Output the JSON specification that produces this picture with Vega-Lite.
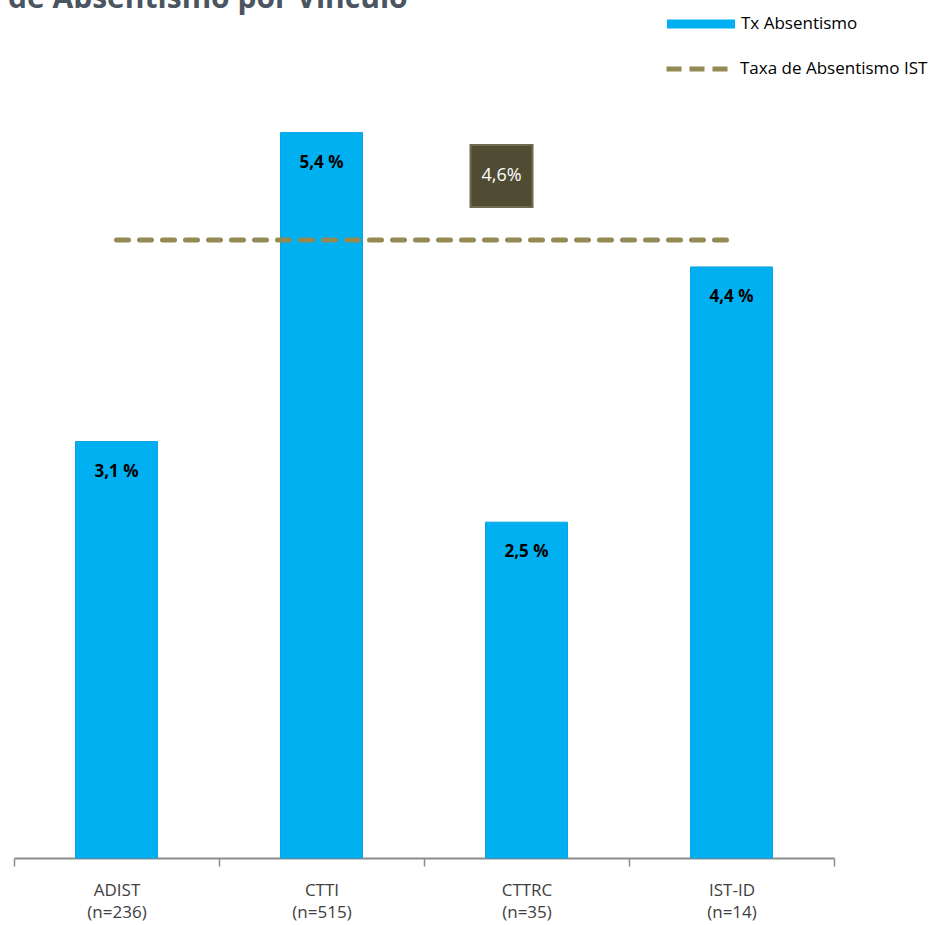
{
  "$schema": "https://vega.github.io/schema/vega-lite/v6.json",
  "width": 820,
  "height": 806,
  "autosize": {"type": "none"},
  "padding": {"left": 14, "top": 52, "right": 117, "bottom": 67},
  "background": "white",
  "title": {
    "text": "de Absentismo por Vínculo",
    "anchor": "start",
    "frame": "group",
    "orient": "top",
    "font": "Open Sans",
    "fontSize": 30,
    "fontWeight": "bold",
    "color": "#4A5561",
    "baseline": "alphabetic",
    "offset": -48,
    "dx": -6
  },
  "data": {
    "values": [
      {"cat": "ADIST (n=236)", "tx": 3.1, "ist": 4.6},
      {"cat": "CTTI (n=515)", "tx": 5.4, "ist": 4.6},
      {"cat": "CTTRC (n=35)", "tx": 2.5, "ist": 4.6},
      {"cat": "IST-ID (n=14)", "tx": 4.4, "ist": 4.6}
    ]
  },
  "encoding": {
    "x": {
      "field": "cat",
      "type": "nominal",
      "sort": null,
      "title": null,
      "scale": {"paddingInner": 0, "paddingOuter": 0},
      "axis": {
        "labelExpr": "split(datum.label, ' ')",
        "labelAngle": 0,
        "labelFont": "Open Sans",
        "labelFontSize": 17,
        "labelColor": "#404040",
        "labelLineHeight": 22,
        "labelBaseline": "top",
        "labelPadding": 16,
        "tickBand": "extent",
        "tickSize": 8,
        "tickColor": "#8C8C8C",
        "tickWidth": 1.5,
        "domainColor": "#8C8C8C",
        "domainWidth": 2,
        "grid": false
      }
    }
  },
  "layer": [
    {
      "mark": {"type": "bar", "width": {"band": 0.4}, "stroke": "#0AA3E0", "strokeWidth": 1},
      "encoding": {
        "y": {"field": "tx", "type": "quantitative", "scale": {"domain": [0, 6]}, "axis": null},
        "color": {
          "datum": "Tx Absentismo",
          "scale": {"range": ["#00B0F0"]},
          "legend": {
            "title": null,
            "orient": "none",
            "legendX": 653,
            "legendY": -62,
            "padding": 0,
            "symbolType": "M-1,-0.13L1,-0.13L1,0.13L-1,0.13Z",
            "symbolSize": 4624,
            "symbolStrokeWidth": 0,
            "labelOffset": 6,
            "labelLimit": 0,
            "labelFont": "Open Sans",
            "labelFontSize": 17,
            "labelColor": "#000000"
          }
        }
      }
    },
    {
      "transform": [{"calculate": "replace(format(datum.tx, '.1f'), '.', ',') + ' %'", "as": "lbl"}],
      "mark": {"type": "text", "dy": 30, "font": "Open Sans", "fontSize": 17, "fontWeight": "bold", "color": "#000000", "baseline": "middle"},
      "encoding": {
        "y": {"field": "tx", "type": "quantitative"},
        "text": {"field": "lbl"}
      }
    },
    {
      "mark": {"type": "line", "strokeWidth": 5, "strokeDash": [12, 11], "strokeCap": "round"},
      "encoding": {
        "y": {"field": "ist", "type": "quantitative"},
        "stroke": {
          "datum": "Taxa de Absentismo IST",
          "scale": {"range": ["#948A54"]},
          "legend": {
            "title": null,
            "orient": "none",
            "legendX": 650,
            "legendY": -16,
            "padding": 0,
            "symbolType": "stroke",
            "symbolSize": 3721,
            "symbolStrokeWidth": 5,
            "symbolDash": [15, 8],
            "labelOffset": 10,
            "labelLimit": 0,
            "labelFont": "Open Sans",
            "labelFontSize": 17,
            "labelColor": "#000000"
          }
        }
      }
    },
    {
      "data": {"values": [{"taxa": 4.6}]},
      "mark": {"type": "square", "size": 3844, "xOffset": -25, "yOffset": -64, "filled": true, "color": "#4F4C33", "stroke": "#6E6B50", "strokeWidth": 2, "opacity": 1},
      "encoding": {
        "x": {"datum": "CTTRC (n=35)"},
        "y": {"field": "taxa", "type": "quantitative"}
      }
    },
    {
      "data": {"values": [{"taxa": 4.6}]},
      "transform": [{"calculate": "replace(format(datum.taxa, '.1f'), '.', ',') + '%'", "as": "lbl"}],
      "mark": {"type": "text", "xOffset": -25, "yOffset": -64, "font": "Open Sans", "fontSize": 18, "color": "#FFFFFF", "baseline": "middle"},
      "encoding": {
        "x": {"datum": "CTTRC (n=35)"},
        "y": {"field": "taxa", "type": "quantitative"},
        "text": {"field": "lbl"}
      }
    }
  ],
  "config": {
    "view": {"stroke": null},
    "legend": {"symbolOpacity": 1}
  }
}
